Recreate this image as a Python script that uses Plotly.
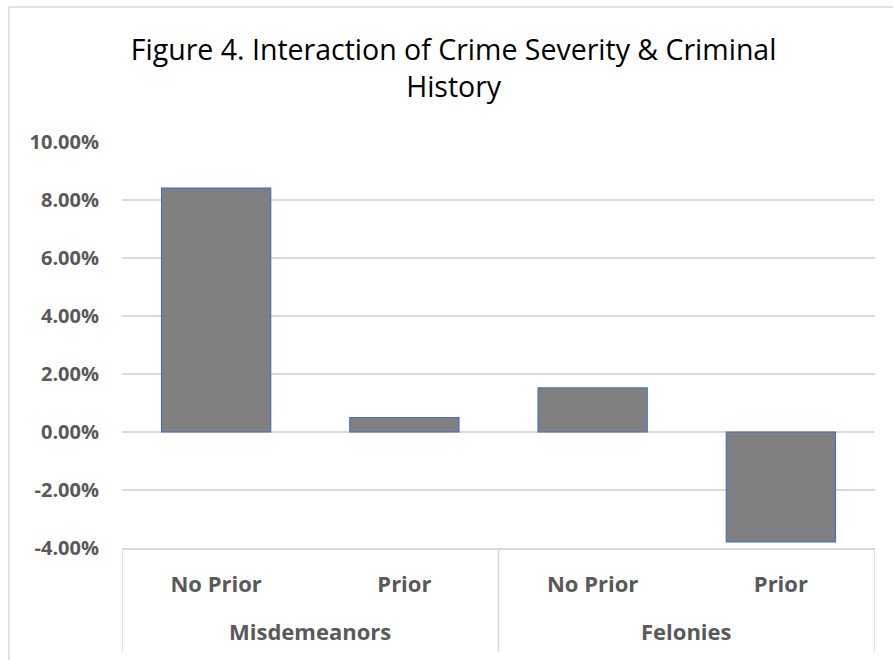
import plotly.graph_objects as go

# Effect size by crime severity and criminal history
severity = ["Misdemeanors", "Misdemeanors", "Felonies", "Felonies"]
history = ["No Prior", "Prior", "No Prior", "Prior"]
effect = [0.0841, 0.0050, 0.0152, -0.0379]

y_ticks = [-0.04, -0.02, 0.0, 0.02, 0.04, 0.06, 0.08, 0.10]
y_tick_labels = [f"{v * 100:.2f}%" for v in y_ticks]

grid_color = "#d9d9d9"
label_color = "#595959"
font_family = "Open Sans, Liberation Sans, sans-serif"

# one category slot per (severity, history) pair
keys = [f"{s} | {h}" for s, h in zip(severity, history)]

fig = go.Figure(
    go.Bar(
        x=keys,
        y=effect,
        marker=dict(color="#808080", line=dict(color="#4472c4", width=1.2)),
        hovertemplate="%{x}<br>%{y:.2%}<extra></extra>",
    )
)

# plot area geometry (pixels) used for the frame and group-label placement
PLOT_H = 660 - 142 - 112
PLOT_W = 893 - 122 - 18

fig.update_layout(
    width=893,
    height=660,
    margin=dict(l=122, r=18, t=142, b=112),
    paper_bgcolor="white",
    plot_bgcolor="white",
    bargap=0.42,
    showlegend=False,
    title=dict(
        text="Figure 4. Interaction of Crime Severity & Criminal<br>History",
        x=0.508,
        xanchor="center",
        y=1 - 60 / 660,
        yanchor="top",
        font=dict(family=font_family, size=28.5, color="#000000"),
    ),
    font=dict(family=font_family),
)

fig.update_yaxes(
    range=[-0.04, 0.10],
    tickvals=y_ticks,
    ticktext=y_tick_labels,
    tickfont=dict(size=20, color=label_color, weight="bold"),
    showgrid=True,
    gridcolor=grid_color,
    gridwidth=1.5,
    zeroline=False,
    showline=False,
    ticks="",
    ticklabelstandoff=22,
)

fig.update_xaxes(
    type="category",
    range=[-0.5, len(keys) - 0.5],
    tickvals=keys,
    ticktext=history,
    tickfont=dict(size=22, color=label_color, weight="bold"),
    showline=True,
    linecolor=grid_color,
    linewidth=1.5,
    showgrid=False,
    ticks="",
    ticklabelstandoff=16,
)

# outer-level group labels, centred over their categories
groups = []
for i, s in enumerate(severity):
    if not groups or groups[-1][0] != s:
        groups.append([s, i, i])
    else:
        groups[-1][2] = i

for name, first, last in groups:
    fig.add_annotation(
        x=(first + last) / 2, xref="x",
        y=-(631 - 548) / PLOT_H, yref="paper",
        text=name, showarrow=False, yanchor="middle",
        font=dict(size=22, color=label_color, family=font_family, weight="bold"),
    )

# dividers between groups and at the axis ends
divider_pos = [groups[0][1] - 0.5] + [g[2] + 0.5 for g in groups]
for xd in divider_pos:
    fig.add_shape(type="line", xref="x", yref="paper",
                  x0=xd, x1=xd, y0=0, y1=-(652 - 548) / PLOT_H,
                  line=dict(color=grid_color, width=1.5))

# chart frame
frame_left = (9 - 122) / PLOT_W
frame_top = (660 - 7 - 112) / PLOT_H
fig.add_shape(type="line", xref="paper", yref="paper",
              x0=frame_left, x1=1.05, y0=frame_top, y1=frame_top,
              line=dict(color=grid_color, width=1.5))
fig.add_shape(type="line", xref="paper", yref="paper",
              x0=frame_left, x1=frame_left, y0=-0.3, y1=frame_top,
              line=dict(color=grid_color, width=1.5))

fig.write_html("out.html")
